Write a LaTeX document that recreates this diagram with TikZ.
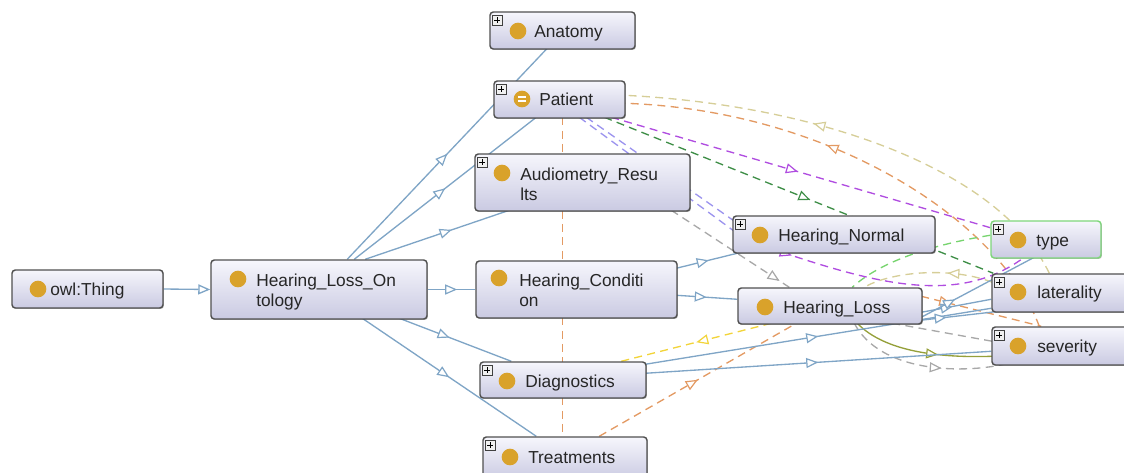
\documentclass[tikz,border=0pt]{standalone}
\usepackage{fontspec}
\setmainfont{Liberation Sans}
\usetikzlibrary{arrows.meta,decorations.markings,shadows,fit,calc,backgrounds}
\definecolor{edgeblue}{HTML}{7FA5C6}
\definecolor{khakiE}{HTML}{D6CE98}
\definecolor{orangeE}{HTML}{E39A63}
\definecolor{purpleE}{HTML}{B04DE0}
\definecolor{dgreenE}{HTML}{3E8E47}
\definecolor{lavE}{HTML}{9C94EE}
\definecolor{grayE}{HTML}{A8A8A8}
\definecolor{yellowE}{HTML}{F2D43A}
\definecolor{lgreenE}{HTML}{77D46E}
\definecolor{oliveE}{HTML}{95A03A}
\definecolor{dotcol}{HTML}{D9A22B}
\definecolor{boxborder}{HTML}{505050}
\definecolor{boxtop}{HTML}{F6F6FC}
\definecolor{boxbot}{HTML}{CACAE2}
\definecolor{typeborder}{HTML}{7ED67A}
\begin{document}
\begin{tikzpicture}[x=0.75pt,y=-0.75pt,
  ogbox/.style={draw=boxborder,line width=1.1pt,rounded corners=2.5pt,top color=boxtop,bottom color=boxbot,inner sep=0pt,
    drop shadow={shadow xshift=0.7pt,shadow yshift=-0.7pt,opacity=0.3,fill=black}},
  ogdot/.style={circle,fill=dotcol,inner sep=0pt,minimum size=12.5pt},
  oglabel/.style={inner sep=0pt,anchor=base west,font=\fontsize{13}{15}\selectfont,text=black!85},
  plusicon/.style={draw=black!75,fill=gray!12,line width=0.5pt,inner sep=0pt,minimum size=7pt,
    path picture={\draw[line width=0.7pt,black] ([xshift=1.3pt]path picture bounding box.west) -- ([xshift=-1.3pt]path picture bounding box.east)
      ([yshift=-1.3pt]path picture bounding box.north) -- ([yshift=1.3pt]path picture bounding box.south);}},
  isa/.style={draw=edgeblue,line width=1pt},
  dsh/.style={line width=1pt,dash pattern=on 6pt off 4pt},
  tri/.style={postaction={decorate,decoration={markings,mark=at position #1 with {\arrow[line width=0.9pt]{Triangle[length=9pt,width=7.5pt,fill=white]}}}}}
]
\useasboundingbox (0,0) rectangle (1124,472);
\begin{scope}
\clip (0,0) rectangle (1124,472);

% ---------- boxes ----------
\node[ogbox,fit={(12,270) (163,308)}] (owl) {};
\node[ogbox,fit={(211,260) (427,319)}] (hlo) {};
\node[ogbox,fit={(490,12) (635,49)}] (anat) {};
\node[ogbox,fit={(494,81) (625,118)}] (pat) {};
\node[ogbox,fit={(475,154) (690,211)}] (aud) {};
\node[ogbox,fit={(476,261) (677,318)}] (hc) {};
\node[ogbox,fit={(480,362) (646,398)}] (diag) {};
\node[ogbox,fit={(483,437) (647,480)}] (treat) {};
\node[ogbox,fit={(733,216) (935,253)}] (hn) {};
\node[ogbox,fit={(738,288) (922,324)}] (hl) {};
\node[ogbox,fit={(991,221) (1101,258)},draw=typeborder] (type) {};
\node[ogbox,fit={(992,274) (1135,312)}] (lat) {};
\node[ogbox,fit={(992,327) (1135,365)}] (sev) {};

% ---------- plus icons ----------
\node[plusicon] (anat-p) at ($(anat.north west)+(8,9)$) {};
\node[plusicon] (pat-p) at ($(pat.north west)+(8,9)$) {};
\node[plusicon] (aud-p) at ($(aud.north west)+(8,9)$) {};
\node[plusicon] (diag-p) at ($(diag.north west)+(8,9)$) {};
\node[plusicon] (treat-p) at ($(treat.north west)+(8,9)$) {};
\node[plusicon] (hn-p) at ($(hn.north west)+(8,9)$) {};
\node[plusicon] (type-p) at ($(type.north west)+(8,9)$) {};
\node[plusicon] (lat-p) at ($(lat.north west)+(8,9)$) {};
\node[plusicon] (sev-p) at ($(sev.north west)+(8,9)$) {};

% ---------- dots ----------
\node[ogdot] (owl-d) at (38,289) {};
\node[ogdot] (hlo-d) at (238,279) {};
\node[ogdot] (anat-d) at (518,31) {};
\node[ogdot,path picture={\draw[white,line width=1.1pt] ([shift={(-3pt,1.4pt)}]path picture bounding box.center) -- +(6pt,0)
   ([shift={(-3pt,-1.4pt)}]path picture bounding box.center) -- +(6pt,0);}] (pat-d) at (522,99) {};
\node[ogdot] (aud-d) at (502,173) {};
\node[ogdot] (hc-d) at (499,278) {};
\node[ogdot] (diag-d) at (507,381) {};
\node[ogdot] (treat-d) at (510,457) {};
\node[ogdot] (hn-d) at (760,235) {};
\node[ogdot] (hl-d) at (765,307) {};
\node[ogdot] (type-d) at (1018,240) {};
\node[ogdot] (lat-d) at (1018,292) {};
\node[ogdot] (sev-d) at (1018,346) {};

% ---------- labels ----------
\node[oglabel] (owl-t) at (50,295) {owl:Thing};
\node[oglabel] (hlo-t1) at (256,286) {Hearing\_Loss\_On};
\node[oglabel] (hlo-t2) at (256,306) {tology};
\node[oglabel] (anat-t) at (534,37) {Anatomy};
\node[oglabel] (pat-t) at (539,105) {Patient};
\node[oglabel] (aud-t1) at (520,180) {Audiometry\_Resu};
\node[oglabel] (aud-t2) at (520,200) {lts};
\node[oglabel] (hc-t1) at (519,286) {Hearing\_Conditi};
\node[oglabel] (hc-t2) at (519,306) {on};
\node[oglabel] (diag-t) at (525,387) {Diagnostics};
\node[oglabel] (treat-t) at (528,463) {Treatments};
\node[oglabel] (hn-t) at (778,241) {Hearing\_Normal};
\node[oglabel] (hl-t) at (783,313) {Hearing\_Loss};
\node[oglabel] (type-t) at (1036,246) {type};
\node[oglabel] (lat-t) at (1037,298) {laterality};
\node[oglabel] (sev-t) at (1037,352) {severity};

% ---------- connectors (behind the boxes) ----------
\begin{pgfonlayer}{background}
% dashed property edges
\draw[dsh,khakiE,tri=0.6] ($(lat.north west)+(58,0)$) .. controls (1000,170) and (820,105) .. ($(pat.north west)+(131,15)$);
\draw[dsh,orangeE,tri=0.58] ($(sev.north west)+(48,0)$) .. controls (1000,220) and (830,110) .. ($(pat.north west)+(131,23)$);
\draw[dsh,purpleE,tri=0.49] ($(pat.north west)+(118,37)$) -- ($(type.north west)+(2,8)$);
\draw[dsh,dgreenE,tri=0.53] ($(pat.north west)+(111,37)$) -- ($(lat.north west)+(2,0)$);
\draw[dsh,lavE] ($(pat.north west)+(86,37)$) -- ($(hn.north west)+(2,16)$);
\draw[dsh,lavE] ($(pat.north west)+(93,37)$) -- ($(hn.north west)+(8,10)$);
\draw[dsh,grayE,tri=0.92] ($(aud.north west)+(197,57)$) -- ($(hl.north west)+(52,0)$);
\draw[dsh,yellowE,tri=0.5] ($(hl.north west)+(34,36)$) -- ($(diag.north west)+(142,0)$);
\draw[dsh,orangeE,tri=0.5] ($(treat.north west)+(117,0)$) -- ($(hl.north west)+(59,36)$);
\draw[dsh,orangeE] ($(pat.north west)+(69,37)$) -- ($(treat.north west)+(80,0)$);
\draw[dsh,lgreenE] ($(type.north west)+(0,15)$) .. controls (930,245) and (880,262) .. ($(hl.north west)+(115,0)$);
\draw[dsh,khakiE,tri=0.35] ($(lat.north west)+(1,9)$) .. controls (950,266) and (890,272) .. ($(hl.north west)+(127,0)$);
\draw[dsh,grayE,tri=0.62] ($(hl.north west)+(117,36)$) .. controls (880,372) and (960,374) .. ($(sev.north west)+(13,38)$);
\draw[dsh,grayE] ($(hl.north west)+(155,36)$) -- ($(sev.north west)+(1,15)$);
\draw[dsh,purpleE,tri=0.04] ($(hn.north west)+(50,37)$) .. controls (880,285) and (960,305) .. ($(type.north west)+(34,37)$);
\draw[dsh,orangeE,tri=0.25] ($(hl.north west)+(184,9)$) -- ($(sev.north west)+(50,0)$);
\draw[line width=1pt,oliveE,tri=0.62] ($(hl.north west)+(120,36)$) .. controls (885,352) and (940,358) .. ($(sev.north west)+(1,30)$);
% is-a edges
\draw[isa,-{Triangle[length=9pt,width=7.5pt,fill=white]}] (owl.east) -- (hlo.west);
\draw[isa,tri=0.5] ($(hlo.north west)+(137,0)$) -- ($(anat.north west)+(58,37)$);
\draw[isa,tri=0.5] ($(hlo.north west)+(144,0)$) -- ($(pat.north west)+(43,37)$);
\draw[isa,tri=0.6] ($(hlo.north west)+(155,0)$) -- ($(aud.north west)+(35,57)$);
\draw[isa,tri=0.62] (hlo.east) -- (hc.west);
\draw[isa,tri=0.45] ($(hlo.north west)+(189,59)$) -- ($(diag.north west)+(32,0)$);
\draw[isa,tri=0.5] ($(hlo.north west)+(152,59)$) -- ($(treat.north west)+(54,0)$);
\draw[isa,tri=0.5] ($(hc.north west)+(201,8)$) -- ($(hn.north west)+(9,37)$);
\draw[isa,tri=0.5] ($(hc.north west)+(201,35)$) -- ($(hl.north west)+(0,12)$);
\draw[isa,tri=0.5] ($(diag.north west)+(166,3)$) -- ($(lat.north west)+(0,35)$);
\draw[isa,tri=0.5] ($(diag.north west)+(166,12)$) -- ($(sev.north west)+(0,25)$);
\draw[isa,tri=0.45] ($(hl.north west)+(184,25)$) -- ($(lat.north west)+(0,26)$);
\draw[isa,tri=0.5] ($(hl.north west)+(157,36)$) -- ($(lat.north west)+(8,38)$);
\draw[isa,tri=0.3] ($(hl.north west)+(184,30)$) -- ($(type.north west)+(44,37)$);
\end{pgfonlayer}
\end{scope}
\end{tikzpicture}
\end{document}
